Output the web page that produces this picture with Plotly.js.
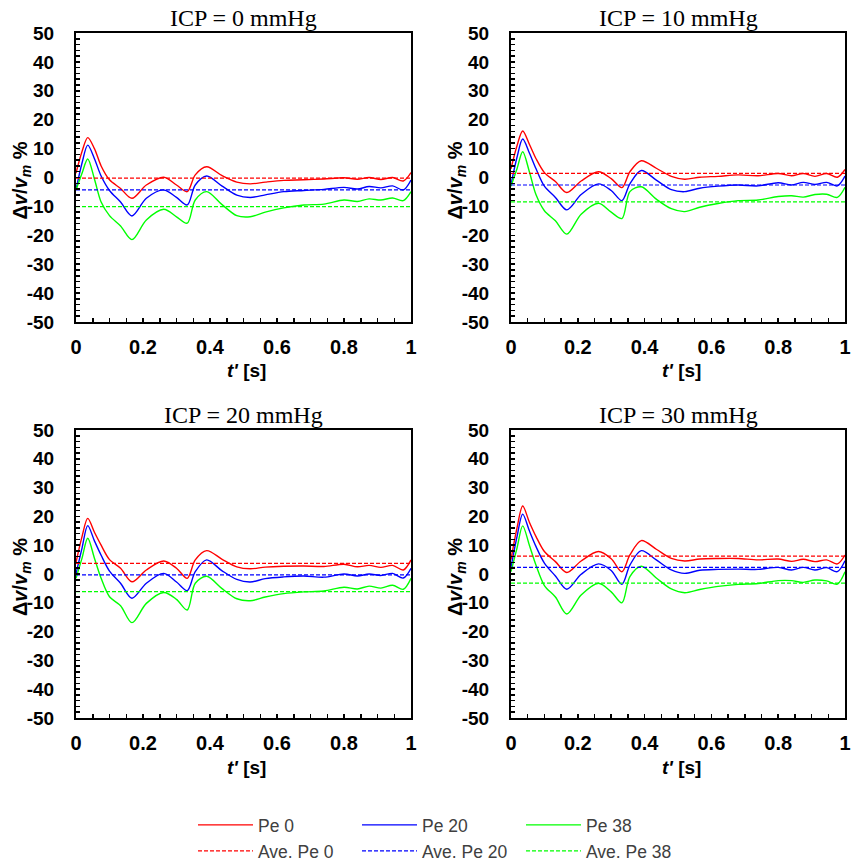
<!DOCTYPE html>
<html>
<head>
<meta charset="utf-8">
<script src="https://cdn.plot.ly/plotly-3.0.1.min.js"></script>
<style>html,body{margin:0;padding:0;background:#fff;}#chart{width:855px;height:862px;}</style>
</head>
<body>
<div id="chart"></div>
<script>
// time grid (s)
const T = [0, 0.018, 0.035, 0.055, 0.075, 0.1, 0.133, 0.167, 0.21, 0.262, 0.3, 0.332, 0.356, 0.39, 0.435, 0.48, 0.52, 0.565, 0.62, 0.68, 0.74, 0.8, 0.84, 0.875, 0.91, 0.945, 0.977, 1.0];

// ICP = 0 mmHg
const icp0_pe0  = [1.5, 9, 13.8, 10, 4, -0.8, -3.8, -7.2, -2.6, 0.1, -2.6, -4.9, 0.9, 3.7, 0.7, -1.6, -2.2, -1.6, -1.0, -0.8, -0.5, -0.1, -0.6, 0, -0.7, 0, -1.2, 1.7];
const icp0_pe20 = [-4.3, 5, 11.2, 6.5, 0.5, -4.5, -8.5, -13.3, -7.2, -4.3, -6.9, -9.5, -2.6, 0.5, -2.9, -6.1, -6.9, -6.0, -4.9, -4.5, -4.1, -3.4, -4.0, -3.1, -3.6, -2.9, -4.3, -0.9];
const icp0_pe38 = [-4.3, 1.5, 6.4, -0.5, -8.5, -13.2, -16.8, -21.5, -14.7, -11.0, -13.6, -15.8, -7.8, -4.9, -9.3, -13.2, -13.6, -12.0, -10.5, -9.5, -9.2, -7.8, -8.3, -7.4, -7.8, -7.1, -8.0, -4.9];
const icp0_avg  = [-0.2, -4.3, -10.1];

// ICP = 10 mmHg
const icp10_pe0  = [3, 11, 16.1, 11.5, 6.5, 1.7, -1.4, -5.2, -1.2, 2.0, -0.4, -3.5, 2.0, 5.8, 3.2, 0.4, -0.6, 0.1, 0.4, 0.9, 0.6, 1.4, 0.6, 1.4, 0.4, 1.4, 0.1, 2.8];
const icp10_pe20 = [-2.5, 7, 13.3, 8.5, 3, -3.0, -6.9, -11.2, -5.9, -2.2, -4.5, -8.0, -2.2, 2.4, -0.9, -4.2, -4.9, -3.7, -3.0, -2.6, -2.9, -1.8, -2.6, -1.7, -2.4, -1.7, -2.9, 0.5];
const icp10_pe38 = [-3, 3, 8.9, 2, -6, -11.5, -15, -19.6, -12.7, -8.9, -12, -14.2, -4.9, -3.2, -7.5, -10.8, -11.8, -10.3, -9.0, -8.0, -7.8, -6.6, -6.3, -6.8, -5.9, -5.8, -6.9, -3.4];
const icp10_avg  = [1.4, -2.6, -8.4];

// ICP = 20 mmHg
const icp20_pe0  = [4, 13, 19.3, 14.5, 10, 5.0, 2.0, -2.7, 1.4, 4.5, 2.0, -1.5, 4.9, 8.1, 5.2, 2.5, 1.8, 2.4, 2.7, 2.8, 2.6, 3.4, 2.5, 3.0, 2.3, 3.0, 1.4, 4.9];
const icp20_pe20 = [0, 9, 16.8, 11.5, 6.5, 1.0, -3.2, -8.4, -3.2, 0.2, -2.8, -5.8, 0.8, 4.9, 1.2, -1.9, -2.8, -1.6, -1.0, -0.7, -1.1, 0, -0.7, 0, -0.5, 0.2, -1.4, 2.0];
const icp20_pe38 = [-1.5, 5.5, 12.4, 5.5, -1.5, -7.9, -11, -16.9, -10.2, -6.4, -8.8, -12.5, -3.2, -0.8, -5.0, -8.6, -9.3, -8.0, -6.8, -6.2, -5.9, -4.6, -5.2, -4.2, -4.9, -3.9, -5.3, -1.5];
const icp20_avg  = [3.7, -0.3, -6.1];

// ICP = 30 mmHg
const icp30_pe0  = [5, 16, 23.6, 18, 13, 7.8, 4.3, 0.5, 4.5, 7.8, 5.3, 0.8, 6.6, 11.6, 8.6, 5.4, 4.5, 5.2, 5.4, 5.4, 4.9, 5.2, 4.4, 5.1, 4.3, 4.9, 3.5, 6.6];
const icp30_pe20 = [2.3, 13, 20.8, 15, 9.5, 3.8, -0.7, -5.3, -0.1, 3.5, 1.2, -3.6, 3.1, 8.1, 4.9, 1.4, 0.2, 1.3, 1.6, 1.7, 1.6, 2.3, 1.4, 2.3, 1.4, 2.2, 0.8, 4.6];
const icp30_pe38 = [0.8, 9, 16.7, 10, 3, -4.0, -8.0, -13.9, -7.3, -3.2, -6.2, -10.0, -0.9, 2.7, -1.4, -5.2, -6.5, -5.4, -4.3, -3.6, -3.3, -2.3, -2.3, -2.9, -2.1, -2.4, -3.5, 0.8];
const icp30_avg  = [6.2, 2.3, -3.2];

const panelTitles = ['ICP = 0 mmHg', 'ICP = 10 mmHg', 'ICP = 20 mmHg', 'ICP = 30 mmHg'];
const seriesNames = ['Pe 0', 'Pe 20', 'Pe 38'];
const avgNames = ['Ave. Pe 0', 'Ave. Pe 20', 'Ave. Pe 38'];
const yTickVals = [-50, -40, -30, -20, -10, 0, 10, 20, 30, 40, 50];
const yTickText = ['-50', '-40', '-30', '-20', '-10', '0', '10', '20', '30', '40', '50'];
const xTickVals = [0, 0.2, 0.4, 0.6, 0.8, 1];
const xTickText = ['0', '0.2', '0.4', '0.6', '0.8', '1'];

const colors = ['#ff0000', '#0000ff', '#00ff00'];
const panels = [
  {series: [icp0_pe0, icp0_pe20, icp0_pe38], avg: icp0_avg},
  {series: [icp10_pe0, icp10_pe20, icp10_pe38], avg: icp10_avg},
  {series: [icp20_pe0, icp20_pe20, icp20_pe38], avg: icp20_avg},
  {series: [icp30_pe0, icp30_pe20, icp30_pe38], avg: icp30_avg}
];

const W = 855, H = 862;
const geo = [
  {l: 76, r: 411, t: 33, b: 322},
  {l: 511, r: 845, t: 33, b: 322},
  {l: 76, r: 411, t: 430, b: 718},
  {l: 511, r: 845, t: 430, b: 718}
];

const traces = [];
panels.forEach((p, i) => {
  const xa = i === 0 ? 'x' : 'x' + (i + 1);
  const ya = i === 0 ? 'y' : 'y' + (i + 1);
  p.series.forEach((s, k) => {
    traces.push({x: T, y: s, xaxis: xa, yaxis: ya, type: 'scatter', mode: 'lines',
      name: seriesNames[k], legend: 'legend', showlegend: i === 0,
      line: {color: colors[k], width: 1.4, shape: 'spline', smoothing: 0.9},
      hoverinfo: 'skip'});
  });
  p.avg.forEach((a, k) => {
    traces.push({x: [T[0], T[T.length - 1]], y: [a, a], xaxis: xa, yaxis: ya, type: 'scatter', mode: 'lines',
      name: avgNames[k], legend: 'legend2', showlegend: i === 0,
      line: {color: colors[k], width: 1.2, dash: '4px,2px'},
      hoverinfo: 'skip'});
  });
});

const sans = 'Liberation Sans, Arial, sans-serif';
const serif = 'Liberation Serif, Times New Roman, serif';
const legendBase = {orientation: 'h', x: 193 / W, xanchor: 'left', yanchor: 'middle',
  entrywidth: 94, entrywidthmode: 'pixels', itemwidth: 55, traceorder: 'normal',
  font: {family: sans, size: 17.5, color: '#404040'}, bgcolor: 'rgba(0,0,0,0)'};
const layout = {
  width: W, height: H,
  margin: {l: 0, r: 0, t: 0, b: 0, autoexpand: false},
  paper_bgcolor: '#ffffff', plot_bgcolor: '#ffffff',
  showlegend: true,
  annotations: [],
  legend: Object.assign({}, legendBase, {y: 1 - 825 / H}),
  legend2: Object.assign({}, legendBase, {y: 1 - 851 / H})
};

geo.forEach((g, i) => {
  const xn = i === 0 ? 'xaxis' : 'xaxis' + (i + 1);
  const yn = i === 0 ? 'yaxis' : 'yaxis' + (i + 1);
  const yref = i === 0 ? 'y' : 'y' + (i + 1);
  const xref = i === 0 ? 'x' : 'x' + (i + 1);
  layout[xn] = {
    domain: [g.l / W, g.r / W], anchor: yref, range: [0, 1],
    showline: true, linecolor: '#000', linewidth: 2, mirror: true,
    showgrid: false, zeroline: false,
    tickmode: 'array', tickvals: xTickVals, ticktext: xTickText,
    ticks: 'inside', ticklen: 4, tickwidth: 1.5, tickcolor: '#000',
    minor: {dtick: 0.05, tick0: 0, ticks: 'inside', ticklen: 4, tickwidth: 1.5, tickcolor: '#000', showgrid: false},
    tickfont: {family: sans, size: 20, color: '#000', weight: 'bold'},
    ticklabelstandoff: 6
  };
  layout[yn] = {
    domain: [1 - g.b / H, 1 - g.t / H], anchor: xref, range: [-50, 50],
    showline: true, linecolor: '#000', linewidth: 2, mirror: true,
    showgrid: false, zeroline: false,
    tickmode: 'array', tickvals: yTickVals, ticktext: yTickText,
    ticks: 'inside', ticklen: 4, tickwidth: 1.5, tickcolor: '#000',
    minor: {dtick: 2, tick0: 0, ticks: 'inside', ticklen: 4, tickwidth: 1.5, tickcolor: '#000', showgrid: false},
    tickfont: {family: sans, size: 19, color: '#000', weight: 'bold'},
    ticklabelstandoff: 16
  };
  const cx = (g.l + g.r) / 2;
  layout.annotations.push({text: panelTitles[i], xref: 'paper', yref: 'paper',
    x: cx / W, y: 1 - (g.t - 15) / H, xanchor: 'center', yanchor: 'middle', showarrow: false,
    font: {family: serif, size: 24, color: '#000'}});
  layout.annotations.push({text: '<b><i>t\'</i> [s]</b>', xref: 'paper', yref: 'paper',
    x: (cx + 3) / W, y: 1 - (g.b + 49) / H, xanchor: 'center', yanchor: 'middle', showarrow: false,
    font: {family: sans, size: 19, color: '#000'}});
  layout.annotations.push({text: '<b>Δ<i>v</i>/<i>v<sub>m</sub></i> %</b>', xref: 'paper', yref: 'paper',
    x: (g.l - 55) / W, y: 1 - ((g.t + g.b) / 2 + 3) / H, xanchor: 'center', yanchor: 'middle', showarrow: false,
    textangle: -90, font: {family: sans, size: 20, color: '#000'}});
});

Plotly.newPlot('chart', traces, layout, {staticPlot: true, displayModeBar: false});
</script>
</body>
</html>
